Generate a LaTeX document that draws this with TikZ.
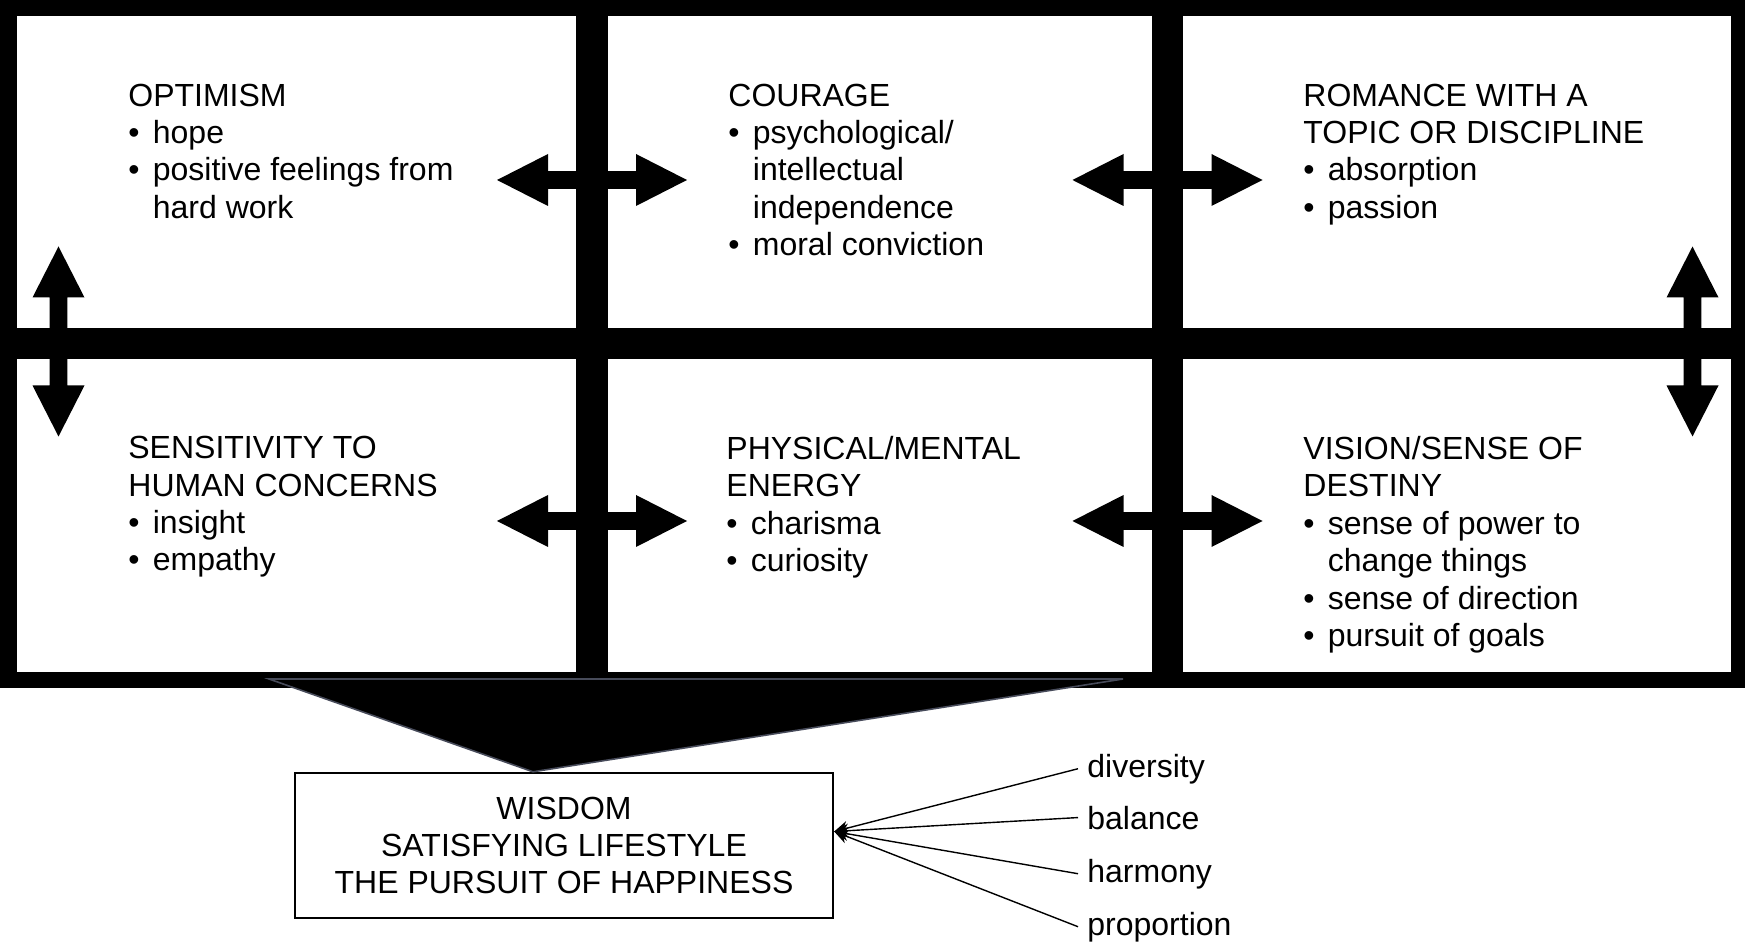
\documentclass[tikz,border=0pt]{standalone}
\usepackage{fontspec}
\setmainfont{Liberation Sans}
\usetikzlibrary{arrows.meta,calc}

\newcommand\bul{\makebox[12.25pt][l]{\textbullet}}
\newcommand\ind{\hspace*{12.25pt}}

\begin{document}
\begin{tikzpicture}[x=0.5pt,y=-0.5pt,
    txt/.style={anchor=north west,align=left,inner sep=0pt,font=\fontsize{16}{18.7}\selectfont,
        execute at begin node=\strut},
    wisbox/.style={draw,line width=1.2pt,minimum width=269pt,minimum height=72.5pt,
        align=center,inner sep=0pt,font=\fontsize{16}{18.3}\selectfont},
    lbl/.style={anchor=base west,inner xsep=4.5pt,inner ysep=0pt,font=\fontsize{16}{18.7}\selectfont},
    dblarrow/.pic={\fill (-95,0) -- (-44,-26) -- (-44,-8.8) -- (44,-8.8) -- (44,-26) -- (95,0)
        -- (44,26) -- (44,8.8) -- (-44,8.8) -- (-44,26) -- cycle;}]
    %colores
    \colorlet{funnel}{cyan!50!blue!30!black}

    \useasboundingbox (0,0) rectangle (1745,945);

    % marco y celdas
    \fill (0,0) rectangle (1745,688);
    \foreach \xa/\xb in {17/576, 608/1152, 1183/1731}
        \foreach \ya/\yb in {16/328, 359/672}
            \fill[white] (\xa,\ya) rectangle (\xb,\yb);

    % flechas dobles
    \pic at (592,180) {dblarrow};
    \pic at (1167.5,180) {dblarrow};
    \pic at (592,521) {dblarrow};
    \pic at (1167.5,521) {dblarrow};
    \pic[rotate=90] at (58.5,341.5) {dblarrow};
    \pic[rotate=90] at (1692.5,341.5) {dblarrow};

    % textos de las celdas
    \node[txt] (opt) at (128,83.3) {OPTIMISM\\\bul hope\\\bul positive feelings from\\\ind hard work};
    \node[txt] (cour) at (728,83.3) {COURAGE\\\bul psychological/\\\ind intellectual\\\ind independence\\\bul moral conviction};
    \node[txt] (rom) at (1303,83.3) {ROMANCE WITH A\\TOPIC OR DISCIPLINE\\\bul absorption\\\bul passion};
    \node[txt] (sens) at (128,436) {SENSITIVITY TO\\HUMAN CONCERNS\\\bul insight\\\bul empathy};
    \node[txt] (phys) at (726,436) {PHYSICAL/MENTAL\\ENERGY\\\bul charisma\\\bul curiosity};
    \node[txt] (vis) at (1303,436) {VISION/SENSE OF\\DESTINY\\\bul sense of power to\\\ind change things\\\bul sense of direction\\\bul pursuit of goals};

    % caja inferior y embudo
    \node[wisbox] (wis) at (564,845.5) {WISDOM\\SATISFYING LIFESTYLE\\THE PURSUIT OF HAPPINESS};
    \coordinate (ftop) at (533,679);
    \filldraw[fill=black,draw=funnel,line width=0.8pt]
        (269,679) -- (1123,679) -- (ftop |- wis.north) -- cycle;

    % etiquetas
    \node[lbl] (div) at (1078,777) {diversity};
    \node[lbl] (bal) at (1078,829) {balance};
    \node[lbl] (har) at (1078,882) {harmony};
    \node[lbl] (prop) at (1078,935) {proportion};
    \foreach \n in {div,bal,har,prop}
        \draw[line width=0.7pt,-{Stealth[length=7pt,width=7pt]}] (\n.west) -- ([yshift=7pt]wis.east);
\end{tikzpicture}
\end{document}
